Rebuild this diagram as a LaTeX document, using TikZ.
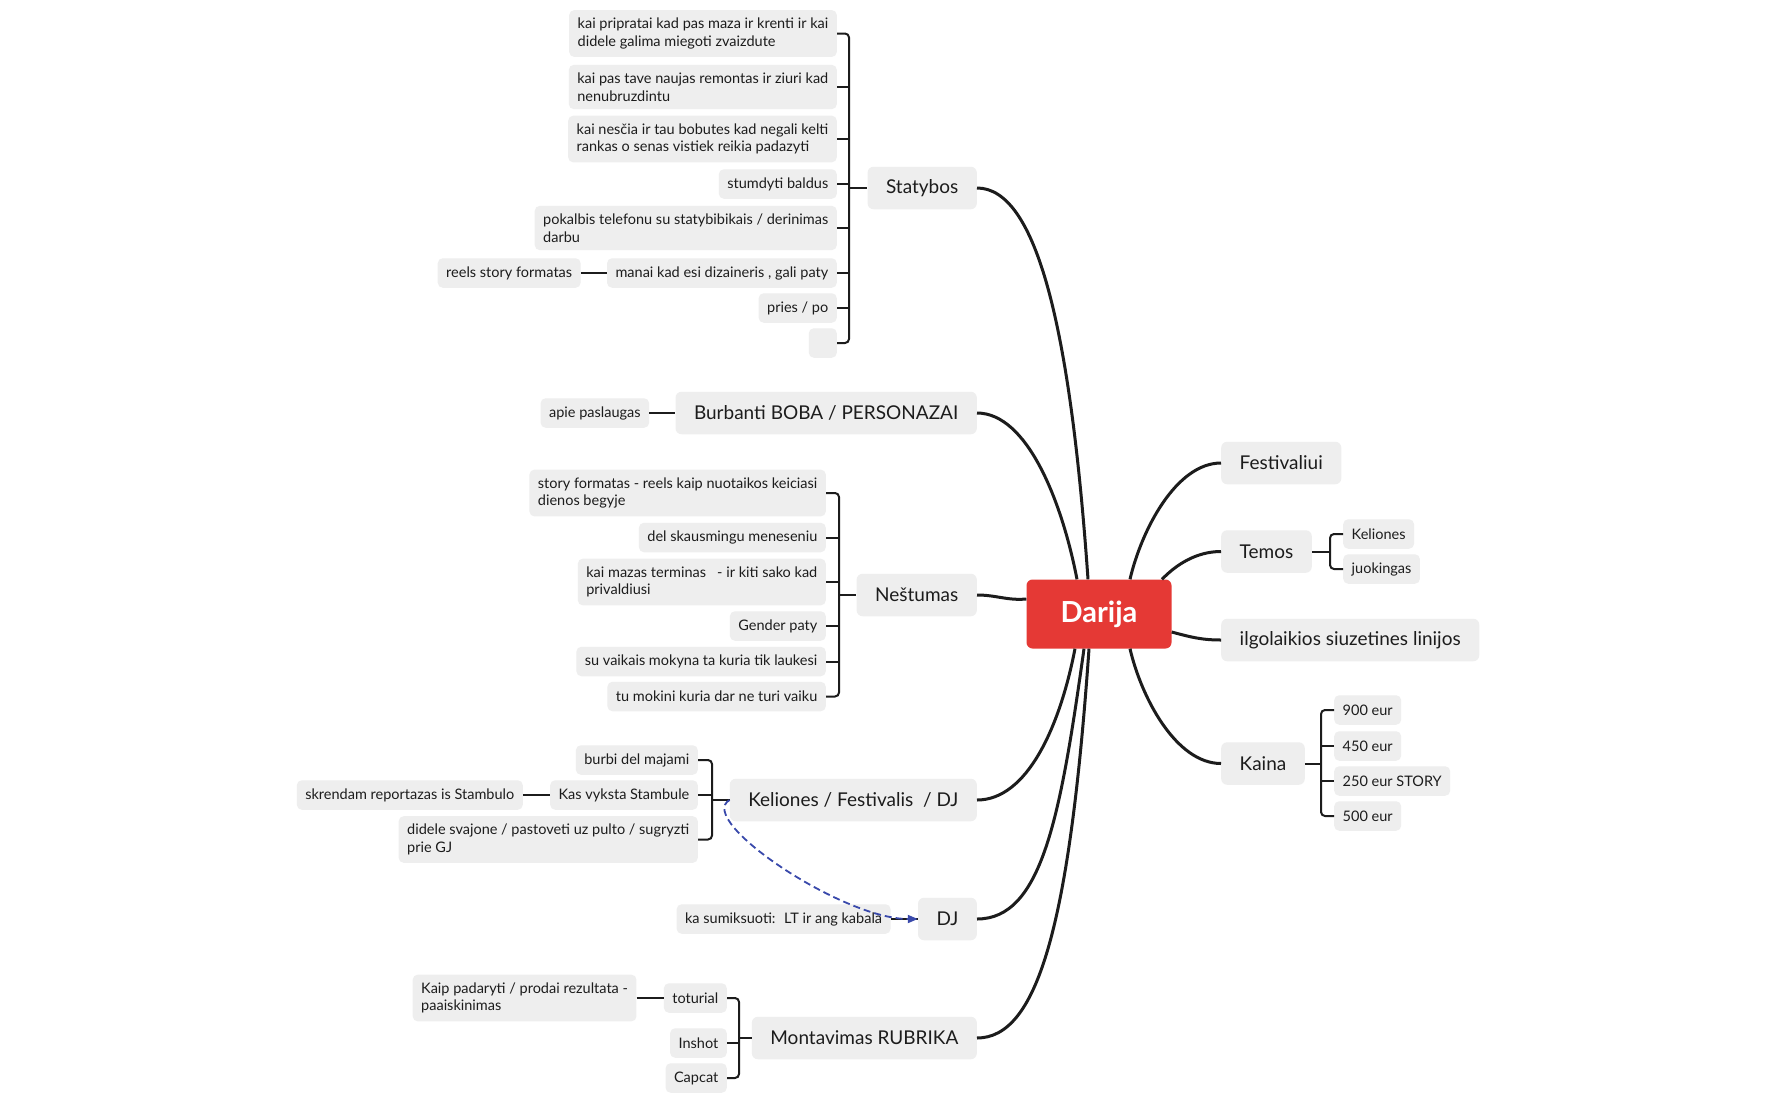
\documentclass[tikz,border=0pt]{standalone}
\usepackage{fontspec}
\setmainfont{Lato}
\usetikzlibrary{arrows.meta,positioning,calc}
\definecolor{ink}{HTML}{1C1C1C}
\definecolor{boxgray}{HTML}{EEEEEE}
\definecolor{rootred}{HTML}{E53935}
\definecolor{relblue}{HTML}{3949AB}
\newcommand{\leaffont}{\fontsize{14.5}{17.5}\selectfont}
\newcommand{\topicfont}{\fontsize{19}{23}\selectfont}
\newcommand{\rootfont}{\fontsize{29}{34}\selectfont\bfseries}

\begin{document}
\begin{tikzpicture}[x=1pt,y=1pt,
  leaf/.style={fill=boxgray,rounded corners=5pt,font=\leaffont,text=ink,align=left,
    inner xsep=8.5pt,inner ysep=8pt,minimum height=29.5pt},
  topic/.style={fill=boxgray,rounded corners=6pt,font=\topicfont,text=ink,
    inner xsep=18.5pt,minimum height=42.5pt},
  root/.style={fill=rootred,rounded corners=6pt,font=\rootfont,text=white,
    minimum width=145pt,minimum height=69pt},
  branch/.style={draw=ink,line width=3pt},
  twig/.style={draw=ink,line width=2pt,rounded corners=4pt},
  rel/.style={draw=relblue,line width=1.8pt,dash pattern=on 7pt off 4pt,
    -{Triangle[length=10pt,width=8pt]}}]
\path[fill=white,use as bounding box] (0,0) rectangle (1782,-1103);

% centre and main topics
\node[root] (dar) at (1099,-614) {Darija};
\node[topic,anchor=east] (stat) at (977,-188) {Statybos};
\node[topic,anchor=east] (bur) at (977,-413) {Burbanti BOBA / PERSONAZAI};
\node[topic,anchor=east] (nes) at (977,-595) {Neštumas};
\node[topic,anchor=east] (kel) at (977,-800) {Keliones / Festivalis \ / DJ};
\node[topic,anchor=east] (dj) at (977,-919) {DJ};
\node[topic,anchor=east] (mon) at (977,-1038) {Montavimas RUBRIKA};
\node[topic,anchor=west] (fest) at (1221,-463) {Festivaliui};
\node[topic,anchor=west] (tem) at (1221,-551.5) {Temos};
\node[topic,anchor=west] (ilg) at (1221,-640) {ilgolaikios siuzetines linijos};
\node[topic,anchor=west] (kai) at (1221,-763.5) {Kaina};

% Statybos
\coordinate (sp1) at (849,0);
\node[leaf,anchor=east] (s1) at (837,-33.5) {kai pripratai kad pas maza ir krenti ir kai\\didele galima miegoti zvaizdute};
\node[leaf,anchor=east] (s2) at (837,-87) {kai pas tave naujas remontas ir ziuri kad\\nenubruzdintu};
\node[leaf,anchor=east] (s3) at (837,-139) {kai nesčia ir tau bobutes kad negali kelti\\rankas o senas vistiek reikia padazyti};
\node[leaf,anchor=east] (s4) at (837,-184) {stumdyti baldus};
\node[leaf,anchor=east] (s5) at (837,-228) {pokalbis telefonu su statybibikais / derinimas\\darbu};
\node[leaf,anchor=east] (s6) at (837,-273) {manai kad esi dizaineris , gali paty};
\node[leaf,anchor=east] (s7) at (837,-308) {pries / po};
\node[leaf,anchor=east,minimum width=28pt] (s8) at (837,-343) {};
\node[leaf,left=26pt of s6] (reels) {reels story formatas};

% Burbanti
\node[leaf,left=26pt of bur] (apie) {apie paslaugas};

% Nestumas
\coordinate (sp2) at (839,0);
\node[leaf,anchor=east] (n1) at (826,-493) {story formatas - reels kaip nuotaikos keiciasi\\dienos begyje};
\node[leaf,anchor=east] (n2) at (826,-537.5) {del skausmingu meneseniu};
\node[leaf,anchor=east] (n3) at (826,-582) {kai mazas terminas \ \ - ir kiti sako kad\\privaldiusi};
\node[leaf,anchor=east] (n4) at (826,-626) {Gender paty};
\node[leaf,anchor=east] (n5) at (826,-661.5) {su vaikais mokyna ta kuria tik laukesi};
\node[leaf,anchor=east] (n6) at (826,-696.5) {tu mokini kuria dar ne turi vaiku};

% Keliones
\coordinate (sp3) at (712,0);
\node[leaf,anchor=east] (k1) at (698,-760) {burbi del majami};
\node[leaf,anchor=east] (k2) at (698,-795) {Kas vyksta Stambule};
\node[leaf,anchor=east] (k3) at (698,-839.5) {didele svajone / pastoveti uz pulto / sugryzti\\prie GJ};
\node[leaf,left=27pt of k2] (skr) {skrendam reportazas is Stambulo};

% DJ
\node[leaf,left=27pt of dj] (mix) {ka sumiksuoti: \ LT ir ang kabala};

% Montavimas
\coordinate (sp4) at (739,0);
\node[leaf,anchor=east] (tot) at (727,-998) {toturial};
\node[leaf,anchor=east] (ins) at (727,-1043) {Inshot};
\node[leaf,anchor=east] (cap) at (727,-1078) {Capcat};
\node[leaf,left=27pt of tot] (kaip) {Kaip padaryti / prodai rezultata -\\paaiskinimas};

% Temos, Kaina
\coordinate (sp5) at (1330,0);
\node[leaf,anchor=west] (tk) at (1343,-534) {Keliones};
\node[leaf,anchor=west] (tj) at (1343,-569) {juokingas};
\coordinate (sp6) at (1321,0);
\node[leaf,anchor=west] (p1) at (1334,-710) {900 eur};
\node[leaf,anchor=west] (p2) at (1334,-746) {450 eur};
\node[leaf,anchor=west] (p3) at (1334,-781) {250 eur STORY};
\node[leaf,anchor=west] (p4) at (1334,-816) {500 eur};

% main branches
\draw[branch] ([xshift=-11pt]dar.north) to[out=94,in=0,out distance=250pt,in distance=60pt] (stat.east);
\draw[branch] ([xshift=-22pt]dar.north) to[out=101,in=0,out distance=80pt,in distance=50pt] (bur.east);
\draw[branch] ([yshift=15pt]dar.west) to[out=185,in=0] (nes.east);
\draw[branch] ([xshift=-24pt]dar.south) to[out=259,in=0,out distance=80pt,in distance=50pt] (kel.east);
\draw[branch] ([xshift=-15pt]dar.south) to[out=262,in=0,out distance=170pt,in distance=65pt] (dj.east);
\draw[branch] ([xshift=-10pt]dar.south) to[out=266,in=0,out distance=280pt,in distance=60pt] (mon.east);
\draw[branch] ([xshift=31pt]dar.north) to[out=77,in=180,out distance=50pt,in distance=45pt] (fest.west);
\draw[branch] ([xshift=63pt]dar.north) to[out=46,in=180,out distance=20pt,in distance=25pt] (tem.west);
\draw[branch] ([yshift=-18pt]dar.east) to[out=-15,in=180] (ilg.west);
\draw[branch] ([xshift=31pt]dar.south) to[out=-77,in=180,out distance=50pt,in distance=45pt] (kai.west);

% brackets
\draw[twig] (s1.east) -| (sp1 |- s8.east) -- (s8.east);
\foreach \n in {s2,s3,s4,s5,s6,s7} \draw[twig] (\n.east) -- (\n.east -| sp1);
\draw[twig] (sp1 |- stat.west) -- (stat.west);
\draw[twig] (reels) -- (s6);
\draw[twig] (apie) -- (bur);
\draw[twig] (n1.east) -| (sp2 |- n6.east) -- (n6.east);
\foreach \n in {n2,n3,n4,n5} \draw[twig] (\n.east) -- (\n.east -| sp2);
\draw[twig] (sp2 |- nes.west) -- (nes.west);
\draw[twig] (k1.east) -| (sp3 |- k3.east) -- (k3.east);
\draw[twig] (k2.east) -- (k2.east -| sp3);
\draw[twig] (sp3 |- kel.west) -- (kel.west);
\draw[twig] (skr) -- (k2);
\draw[twig] (mix) -- (dj);
\draw[twig] (tot.east) -| (sp4 |- cap.east) -- (cap.east);
\draw[twig] (ins.east) -- (ins.east -| sp4);
\draw[twig] (sp4 |- mon.west) -- (mon.west);
\draw[twig] (kaip) -- (tot);
\draw[twig] (tk.west) -| (sp5 |- tj.west) -- (tj.west);
\draw[twig] (tem.east) -- (tem.east -| sp5);
\draw[twig] (p1.west) -| (sp6 |- p4.west) -- (p4.west);
\foreach \n in {p2,p3} \draw[twig] (\n.west) -- (\n.west -| sp6);
\draw[twig] (kai.east) -- (kai.east -| sp6);

% relationship
\draw[rel] (kel.west) to[out=210,in=180,out distance=40pt,in distance=76pt] (dj.west);
\end{tikzpicture}
\end{document}
